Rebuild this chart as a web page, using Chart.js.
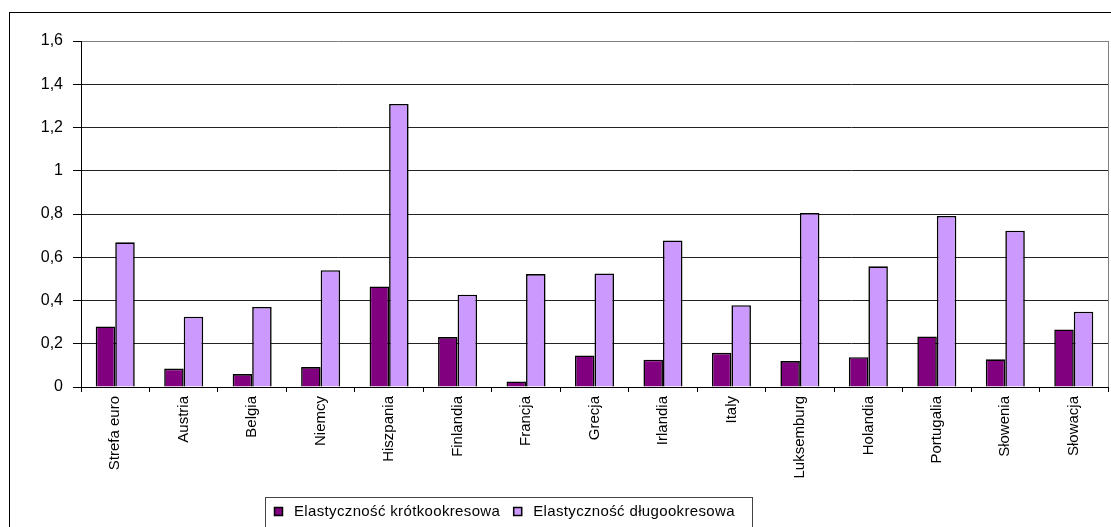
<!DOCTYPE html>
<html>
<head>
<meta charset="utf-8">
<script src="https://cdn.jsdelivr.net/npm/chart.js@4.4.1/dist/chart.umd.min.js"></script>
<style>
    html, body { margin: 0; padding: 0; background: #fff; }
    #wrap { width: 1111px; height: 527px; }
</style>
</head>
<body>
<div id="wrap"><canvas id="elastChart" width="1111" height="527"></canvas></div>
<script>
// Kraje strefy euro
const countries = ['Strefa euro', 'Austria', 'Belgia', 'Niemcy', 'Hiszpania', 'Finlandia', 'Francja',
    'Grecja', 'Irlandia', 'Italy', 'Luksemburg', 'Holandia', 'Portugalia', 'Słowenia', 'Słowacja'];

const shortRun = [0.28, 0.085, 0.06, 0.092, 0.465, 0.231, 0.026, 0.146, 0.126, 0.158, 0.12, 0.138, 0.234, 0.128, 0.266];
const longRun = [0.669, 0.325, 0.37, 0.54, 1.309, 0.427, 0.522, 0.525, 0.678, 0.378, 0.805, 0.558, 0.791, 0.723, 0.348];

const yTickLabels = ['0', '0,2', '0,4', '0,6', '0,8', '1', '1,2', '1,4', '1,6'];

const FONT = "'Liberation Sans', Arial, sans-serif";

// ramka wykresu, obramowanie obszaru kreślenia i legenda
const framePlugin = {
    id: 'framePlugin',
    beforeDraw(chart) {
        const ctx = chart.ctx;
        ctx.save();
        ctx.fillStyle = '#fff';
        ctx.fillRect(0, 0, chart.width, chart.height);
        ctx.restore();
    },
    afterDraw(chart) {
        const ctx = chart.ctx;
        const area = chart.chartArea;
        ctx.save();
        // zewnętrzna ramka
        ctx.strokeStyle = '#000';
        ctx.lineWidth = 1;
        ctx.strokeRect(9.5, 12.5, chart.width + 10, chart.height + 10);

        // prawa krawędź obszaru kreślenia
        ctx.strokeStyle = '#808080';
        ctx.beginPath();
        ctx.moveTo(Math.round(area.right) + 0.5, area.top);
        ctx.lineTo(Math.round(area.right) + 0.5, area.bottom);
        ctx.stroke();

        // legenda
        const lx = 265, ly = 497, lw = 487, lh = 40;
        ctx.strokeStyle = '#444';
        ctx.strokeRect(lx + 0.5, ly + 0.5, lw, lh);
        ctx.font = '15px ' + FONT;
        ctx.letterSpacing = '0.35px';
        ctx.textBaseline = 'middle';
        let x = 274;
        chart.data.datasets.forEach(ds => {
            ctx.fillStyle = ds.backgroundColor;
            ctx.fillRect(x, 507, 9, 9);
            ctx.strokeStyle = '#000';
            ctx.lineWidth = 1.5;
            ctx.strokeRect(x + 0.5, 507.5, 8, 8);
            ctx.fillStyle = '#000';
            ctx.fillText(ds.label, x + 20, 512);
            x += 20 + ctx.measureText(ds.label).width + 13;
        });
        ctx.restore();
    }
};

const ctx = document.getElementById('elastChart').getContext('2d');
new Chart(ctx, {
    type: 'bar',
    data: {
        labels: countries,
        datasets: [
            {
                label: 'Elastyczność krótkookresowa',
                data: shortRun,
                backgroundColor: '#800080',
                borderColor: '#000',
                borderWidth: 1.6
            },
            {
                label: 'Elastyczność długookresowa',
                data: longRun,
                backgroundColor: '#CC99FF',
                borderColor: '#000',
                borderWidth: 1.6
            }
        ]
    },
    options: {
        responsive: false,
        animation: false,
        layout: { padding: { left: 9, right: 3, top: 41, bottom: 0 } },
        datasets: {
            bar: { categoryPercentage: 0.57, barPercentage: 1 }
        },
        plugins: {
            legend: { display: false },
            tooltip: { enabled: false }
        },
        scales: {
            x: {
                afterFit: s => { s.height = 140; },
                grid: {
                    offset: true,
                    drawOnChartArea: false,
                    tickLength: 5,
                    color: '#000'
                },
                border: { color: '#000' },
                ticks: {
                    minRotation: 90,
                    maxRotation: 90,
                    padding: 4,
                    color: '#000',
                    font: { family: FONT, size: 15 }
                }
            },
            y: {
                min: 0,
                max: 1.6,
                afterFit: s => { s.width = 72; },
                grid: {
                    color: c => (c.tick && c.tick.value >= 1.6 ? '#808080' : '#222'),
                    tickColor: '#000',
                    tickLength: 8
                },
                border: { color: '#000' },
                ticks: {
                    stepSize: 0.2,
                    padding: 10,
                    color: '#000',
                    font: { family: FONT, size: 16 },
                    callback: (v, i) => yTickLabels[i]
                }
            }
        }
    },
    plugins: [framePlugin]
});
</script>
</body>
</html>
